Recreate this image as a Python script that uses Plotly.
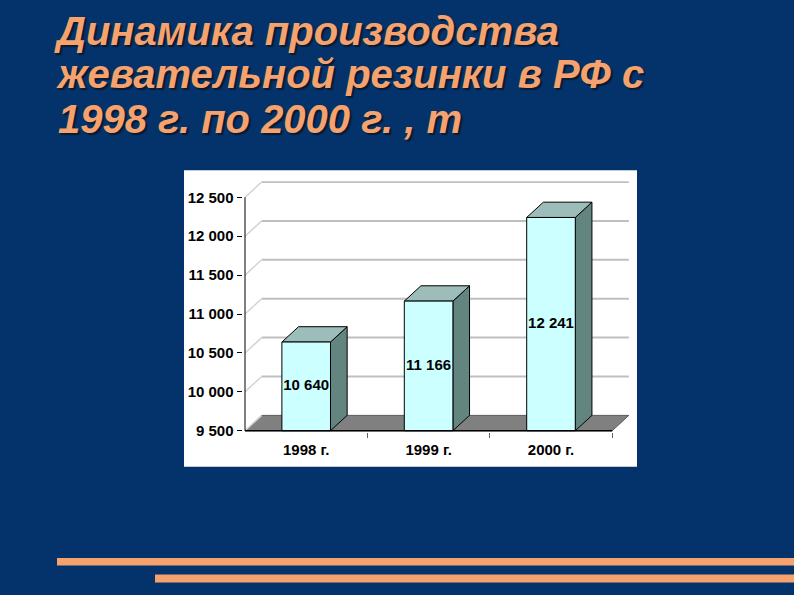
import plotly.graph_objects as go

# ---- data ----
categories = ["1998 г.", "1999 г.", "2000 г."]
values = [10640, 11166, 12241]
value_labels = ["10 640", "11 166", "12 241"]
y_ticks = [9500, 10000, 10500, 11000, 11500, 12000, 12500]
y_tick_labels = ["9 500", "10 000", "10 500", "11 000", "11 500", "12 000", "12 500"]
title_lines = ["Динамика производства", "жевательной резинки в РФ с", "1998 г. по 2000 г. , т"]

# ---- style / geometry constants ----
W = 794
HF = 587          # effective vertical frame used for paper fractions
BG = "#03336A"
ORANGE = "#F5A26F"
FRONT = "#CCFFFF"
TOP = "#9CBDBA"
SIDE = "#62867F"
FLOOR = "#808080"
GRID = "#BFBFBF"
YMIN, YMAX = 9500, 12500
DX, DY = 0.136, 197      # depth offset (category units, value units)
BW = 0.397               # bar front width
LABEL_FONT = "Liberation Sans, Arial, sans-serif"

xs = list(range(len(categories)))
x_lo, x_hi = -0.5, len(categories) - 0.5

px_per_cat = 122.4
px_per_val = 233 / 3000.0
pad_x = 0.02
pad_y = 20
x_range = [x_lo - pad_x, x_hi + DX + 0.01]
y_range = [YMIN - pad_y, YMAX + DY + 10]
left_px = 245 - pad_x * px_per_cat
right_px = 245 + (x_range[1] - x_lo) * px_per_cat
bot_px = 430 + pad_y * px_per_val
top_px = 430 - (y_range[1] - YMIN) * px_per_val

def fy(ypx):
    return 1 - ypx / HF

fig = go.Figure()

def poly_trace(pts_list, fill, line_color, line_width=1):
    xx, yy = [], []
    for pts in pts_list:
        for (a, b) in pts:
            xx.append(a); yy.append(b)
        xx.append(pts[0][0]); yy.append(pts[0][1])
        xx.append(None); yy.append(None)
    return go.Scatter(x=xx, y=yy, mode="lines", fill="toself", fillcolor=fill,
                      line=dict(color=line_color, width=line_width),
                      hoverinfo="skip", showlegend=False)

# floor
fig.add_trace(poly_trace([[(x_lo, YMIN), (x_hi, YMIN), (x_hi + DX, YMIN + DY), (x_lo + DX, YMIN + DY)]],
                         FLOOR, "#5a5a5a", 1))

# back wall gridlines and left-wall diagonals
gx, gy, dxl, dyl = [], [], [], []
for t in y_ticks[1:]:
    gx += [x_lo + DX, x_hi + DX, None]
    gy += [t + DY, t + DY, None]
for t in y_ticks:
    dxl += [x_lo, x_lo + DX, None]
    dyl += [t, t + DY, None]
fig.add_trace(go.Scatter(x=gx, y=gy, mode="lines", line=dict(color=GRID, width=2),
                         hoverinfo="skip", showlegend=False))
fig.add_trace(go.Scatter(x=dxl, y=dyl, mode="lines", line=dict(color="#D4D4D4", width=1.5),
                         hoverinfo="skip", showlegend=False))

# bars (front, side, top)
fronts, sides, tops = [], [], []
for x, v in zip(xs, values):
    l, r = x - BW / 2, x + BW / 2
    fronts.append([(l, YMIN), (r, YMIN), (r, v), (l, v)])
    sides.append([(r, YMIN), (r + DX, YMIN + DY), (r + DX, v + DY), (r, v)])
    tops.append([(l, v), (r, v), (r + DX, v + DY), (l + DX, v + DY)])
fig.add_trace(poly_trace(sides, SIDE, "black", 1))
fig.add_trace(poly_trace(tops, TOP, "black", 1))
fig.add_trace(poly_trace(fronts, FRONT, "black", 1))

# front floor edge (x axis line) and y axis line
fig.add_trace(go.Scatter(x=[x_lo, x_hi], y=[YMIN, YMIN], mode="lines",
                         line=dict(color="black", width=1.5), hoverinfo="skip", showlegend=False))
fig.add_trace(go.Scatter(x=[x_lo, x_lo], y=[YMIN, YMAX], mode="lines",
                         line=dict(color="black", width=1), hoverinfo="skip", showlegend=False))

# value labels
fig.add_trace(go.Scatter(x=xs, y=[(YMIN + v) / 2 for v in values], mode="text",
                         text=value_labels,
                         textfont=dict(family=LABEL_FONT, size=15, color="black", weight="bold"),
                         hoverinfo="skip", showlegend=False))

# title lines
title_y_px = [31, 74, 119]
title_x_px = [52, 54, 56]
annotations = []
for line, ypx, xpx in zip(title_lines, title_y_px, title_x_px):
    annotations.append(dict(
        text=line, xref="paper", yref="paper", x=xpx / W, y=fy(ypx),
        xanchor="left", yanchor="middle", showarrow=False,
        font=dict(family="Liberation Sans, Arial, sans-serif", size=40, color=ORANGE,
                  weight="bold", style="italic", shadow="2px 2px 1px #0a1a30")))

shapes = [
    # white chart box
    dict(type="rect", xref="paper", yref="paper", x0=184 / W, x1=637 / W,
         y0=fy(466), y1=fy(170), fillcolor="white", line=dict(width=0), layer="below"),
    # bottom decorative stripes
    dict(type="rect", xref="paper", yref="paper", x0=57 / W, x1=1.0,
         y0=fy(564.5), y1=fy(557), fillcolor=ORANGE, line=dict(width=0), layer="below"),
    dict(type="rect", xref="paper", yref="paper", x0=155 / W, x1=1.0,
         y0=fy(581.5), y1=fy(573.5), fillcolor=ORANGE, line=dict(width=0), layer="below"),
]

fig.update_layout(
    autosize=True,
    margin=dict(l=0, r=0, t=0, b=0),
    paper_bgcolor=BG, plot_bgcolor="rgba(0,0,0,0)",
    showlegend=False,
    annotations=annotations, shapes=shapes,
    xaxis=dict(domain=[left_px / W, right_px / W], range=x_range,
               showgrid=False, zeroline=False, showline=False,
               tickmode="array", tickvals=xs, ticktext=categories, ticks="",
               ticklabelstandoff=7,
               tickfont=dict(family=LABEL_FONT, size=15, color="black", weight="bold"),
               minor=dict(tickmode="array", tickvals=[0.5, 1.5, 2.5], ticks="outside",
                          ticklen=5, tickcolor="#606060", tickwidth=1, showgrid=False),
               fixedrange=True),
    yaxis=dict(domain=[fy(bot_px), fy(top_px)], range=y_range,
               showgrid=False, zeroline=False, showline=False,
               tickmode="array", tickvals=y_ticks, ticktext=y_tick_labels,
               ticks="outside", ticklen=5, tickcolor="black", tickwidth=1,
               tickfont=dict(family=LABEL_FONT, size=15, color="black", weight="bold"),
               fixedrange=True),
)

post = (
    "document.documentElement.style.margin='0';"
    "document.documentElement.style.background='" + BG + "';"
    "document.body.style.margin='0';"
    "document.body.style.overflow='hidden';"
    "document.body.style.background='" + BG + "';"
    "var gd=document.getElementById('{plot_id}');"
    "gd.style.width='100vw';gd.style.height='100vh';"
    "Plotly.Plots.resize(gd);"
)
fig.write_html("out.html", config={"displayModeBar": False, "responsive": True},
               default_width="100vw", default_height="100vh", post_script=post)
